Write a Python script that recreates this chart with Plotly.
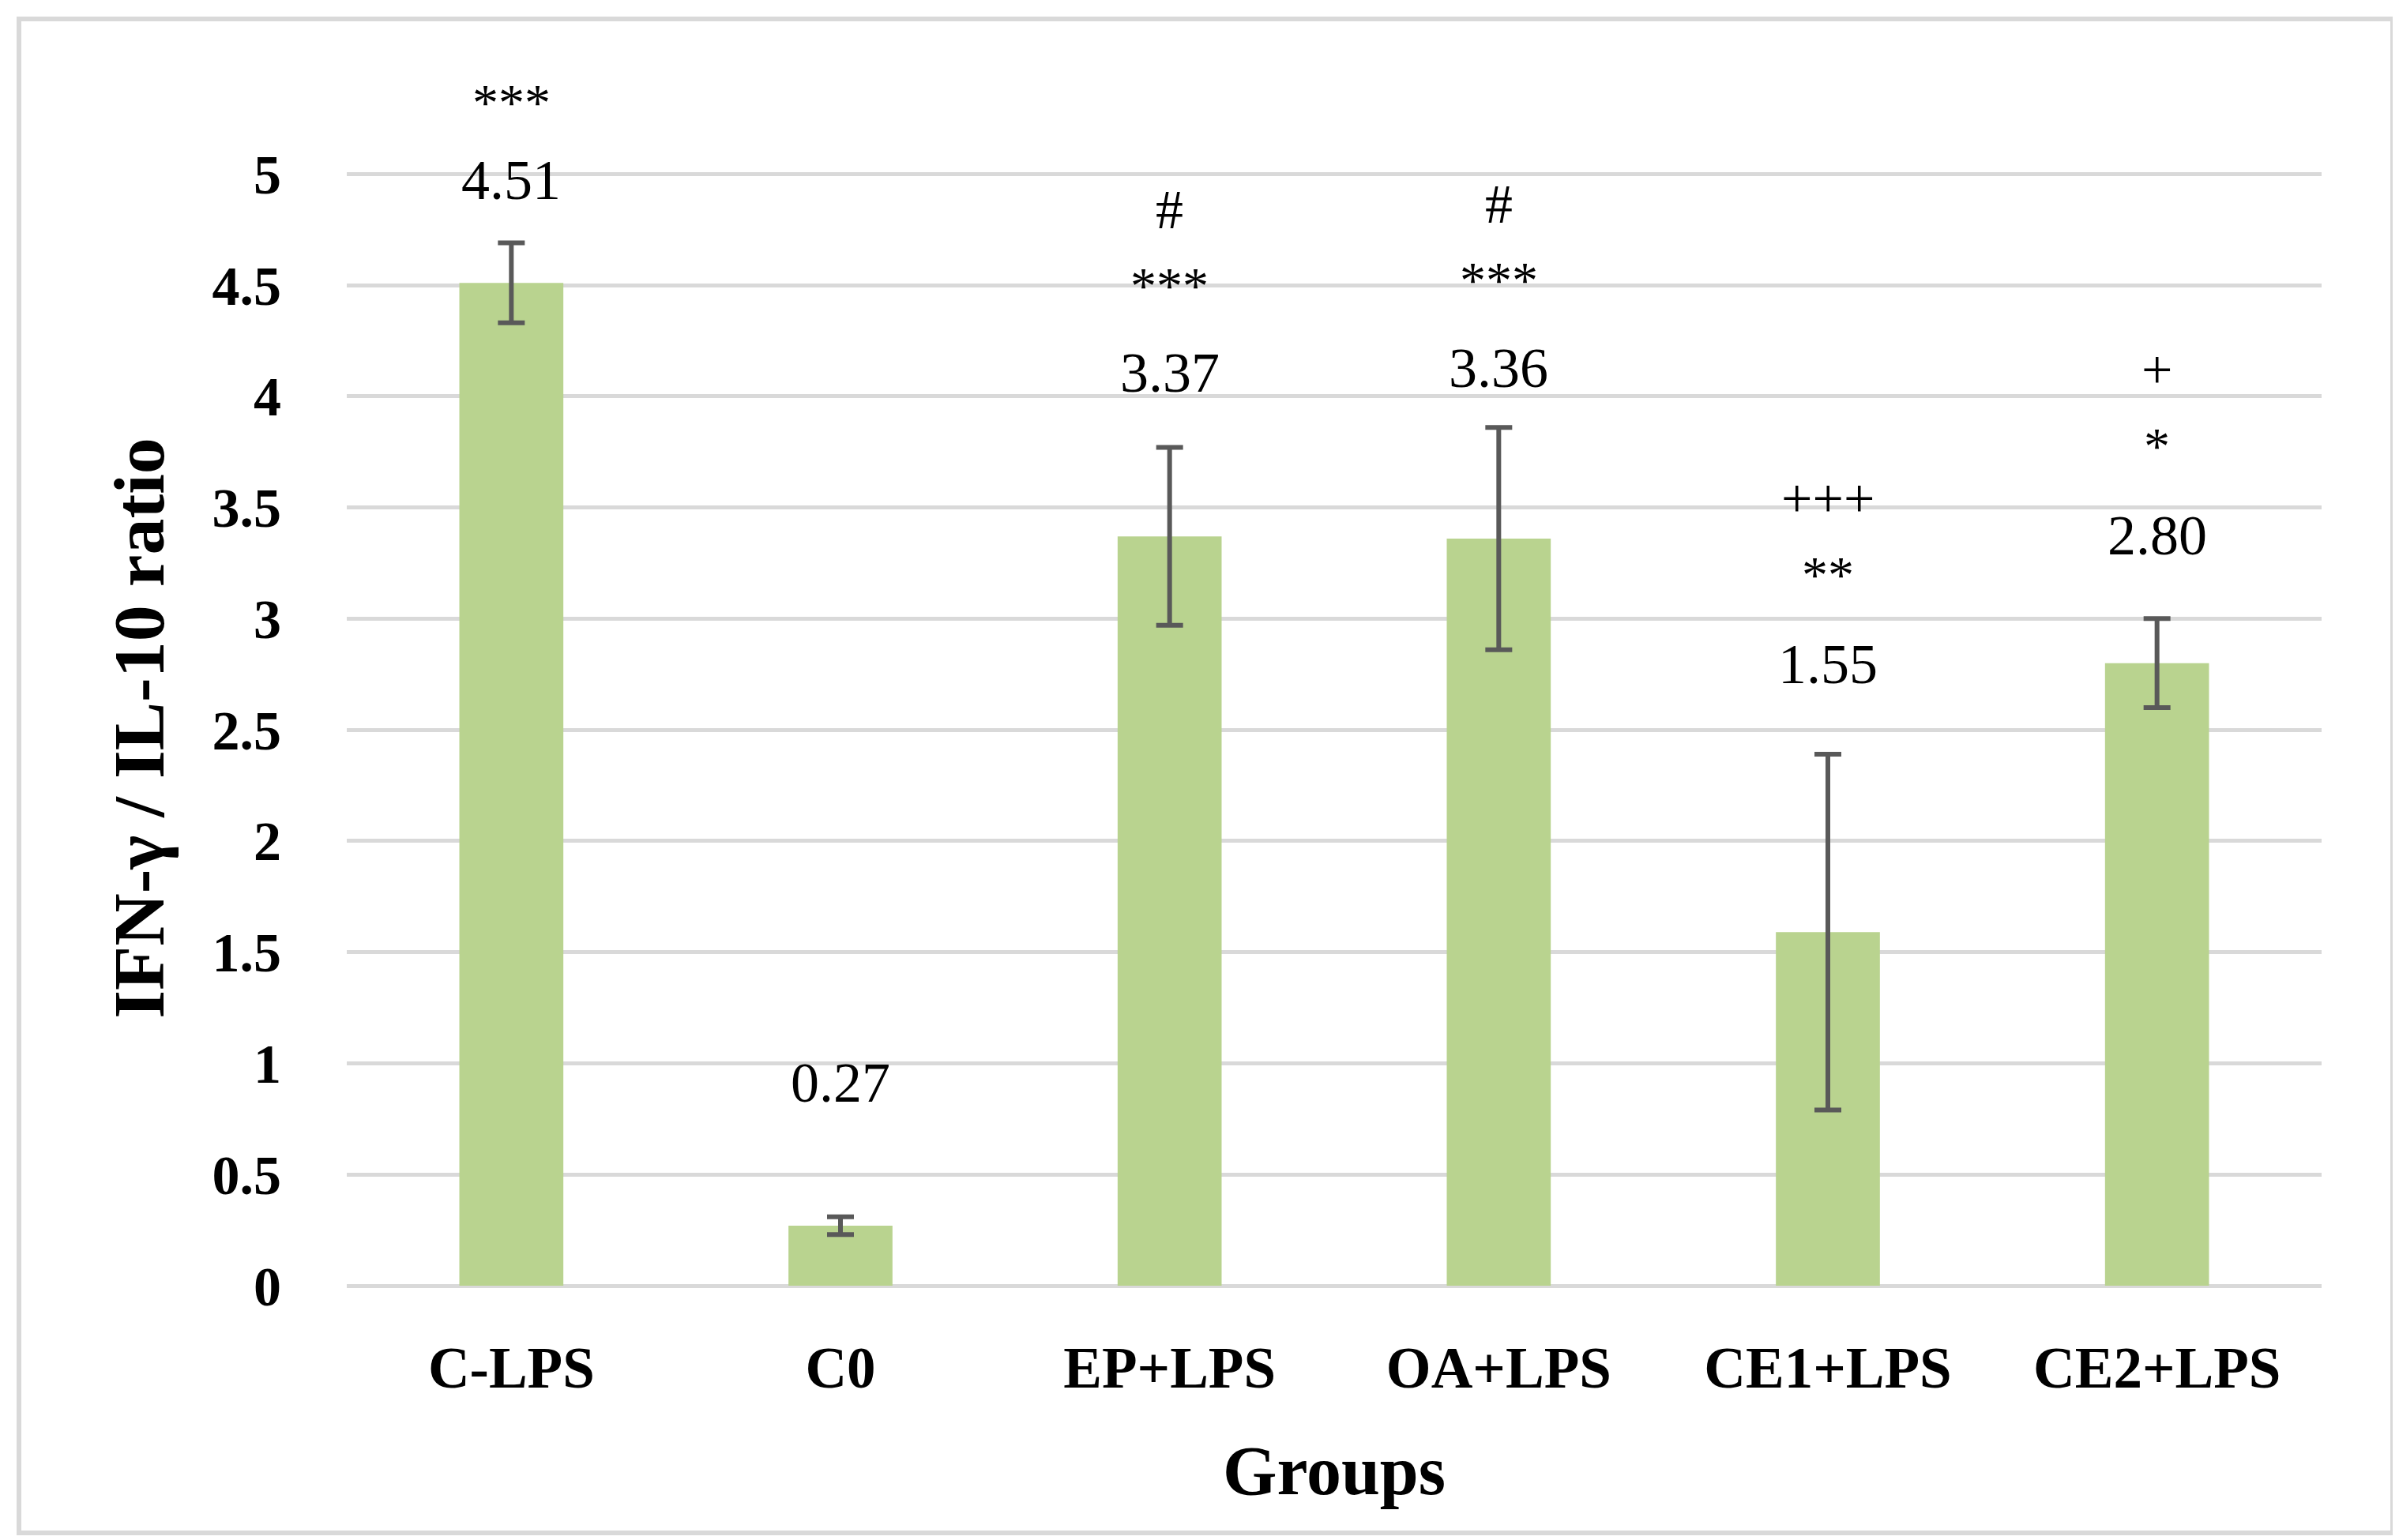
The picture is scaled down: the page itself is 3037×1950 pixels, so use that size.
import plotly.graph_objects as go

# ---- data ----
groups = ["C-LPS", "C0", "EP+LPS", "OA+LPS", "CE1+LPS", "CE2+LPS"]
ratio = [4.51, 0.27, 3.37, 3.36, 1.59, 2.80]
errors = [0.18, 0.04, 0.40, 0.50, 0.80, 0.20]
value_labels = ["4.51", "0.27", "3.37", "3.36", "1.55", "2.80"]
stars = ["***", "", "***", "***", "**", "*"]
marks = ["", "", "#", "#", "+++", "+"]
y_ticks = [0, 0.5, 1, 1.5, 2, 2.5, 3, 3.5, 4, 4.5, 5]
y_tick_text = ["0", "0.5", "1", "1.5", "2", "2.5", "3", "3.5", "4", "4.5", "5"]

# ---- layout geometry (pixels) ----
W, H = 3037, 1950
ml, mr, mt, mb = 431, 106, 208, 330
pw, ph = W - ml - mr, H - mt - mb
Y_MAX = 5.015

FONT = "Liberation Serif"
GRID = "#D9D9D9"
BAR = "#B9D38F"
ERR = "#595959"

# manual label placement (pixel lift above error-bar top, per group, as in the source figure)
label_lift = [80, 170, 95, 75, 114, 105]
star_gap = [98, 0, 110, 112, 114, 114]
mark_gap = 96

fig = go.Figure()
fig.add_trace(go.Bar(
    x=groups, y=ratio,
    marker=dict(color=BAR, line=dict(width=0)),
    error_y=dict(type="data", array=errors, color=ERR, thickness=6, width=17, visible=True),
    hoverinfo="skip",
))

annotations = []
for i, (g, v, e, lab, st, mk) in enumerate(zip(groups, ratio, errors, value_labels, stars, marks)):
    top = v + e
    base = label_lift[i]
    annotations.append(dict(x=g, y=top, xref="x", yref="y", text=lab, showarrow=False,
                            yanchor="middle", yshift=base,
                            font=dict(family=FONT, size=72, color="black")))
    if st:
        annotations.append(dict(x=g, y=top, xref="x", yref="y", text=st, showarrow=False,
                                yanchor="middle", yshift=base + star_gap[i],
                                font=dict(family=FONT, size=66, color="black")))
    if mk:
        annotations.append(dict(x=g, y=top, xref="x", yref="y", text=mk, showarrow=False,
                                yanchor="middle", yshift=base + star_gap[i] + mark_gap,
                                font=dict(family=FONT, size=70, color="black")))

# outer light-gray frame
shapes = [dict(type="rect", xref="paper", yref="paper",
               x0=(16 - ml) / pw, x1=(W - 16 - ml) / pw,
               y0=(H - 1933 - mb) / ph, y1=(H - 16 - mb) / ph,
               line=dict(color=GRID, width=6), fillcolor="rgba(0,0,0,0)", layer="below")]

fig.update_layout(
    width=W, height=H,
    margin=dict(l=ml, r=mr, t=mt, b=mb, pad=0),
    paper_bgcolor="white", plot_bgcolor="white",
    bargap=0.684,
    showlegend=False,
    font=dict(family=FONT, color="black"),
    annotations=annotations,
    shapes=shapes,
    xaxis=dict(
        showgrid=False, showline=False, zeroline=False,
        ticks="outside", ticklen=40, tickcolor="rgba(0,0,0,0)",
        tickfont=dict(family=FONT, size=73, color="black", weight="bold"),
        title=dict(text="Groups", standoff=58,
                   font=dict(family=FONT, size=88, color="black", weight="bold")),
    ),
    yaxis=dict(
        range=[0, Y_MAX], tickvals=y_ticks, ticktext=y_tick_text,
        showgrid=True, gridcolor=GRID, gridwidth=5,
        zeroline=True, zerolinecolor=GRID, zerolinewidth=5,
        showline=False,
        ticks="outside", ticklen=68, tickcolor="rgba(0,0,0,0)",
        tickfont=dict(family=FONT, size=70, color="black", weight="bold"),
        title=dict(text="IFN-γ / IL-10 ratio", standoff=30,
                   font=dict(family=FONT, size=92, color="black", weight="bold")),
    ),
)

fig.write_html("out.html")
